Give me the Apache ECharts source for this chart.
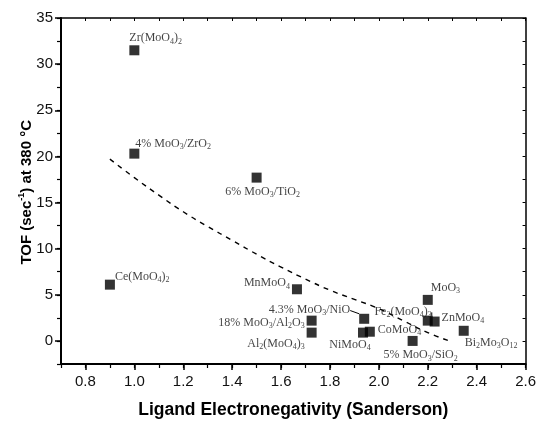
<!DOCTYPE html>
<html>
<head>
<meta charset="utf-8">
<script src="https://cdn.jsdelivr.net/npm/echarts@6/dist/echarts.min.js"></script>
<style>html,body{margin:0;padding:0;background:#fff;}#c{width:539px;height:424px;}</style>
</head>
<body>
<div id="c"></div>
<script>
// ---- data ----
const names = ['Zr(MoO4)2','4% MoO3/ZrO2','6% MoO3/TiO2','Ce(MoO4)2','MnMoO4','4.3% MoO3/NiO',
  '18% MoO3/Al2O3','Al2(MoO4)3','NiMoO4','CoMoO4','5% MoO3/SiO2','MoO3','Fe2(MoO4)3','ZnMoO4','Bi2Mo3O12'];
const electroneg = [1.00, 1.00, 1.50, 0.90, 1.665, 1.94, 1.725, 1.725, 1.935, 1.963, 2.138, 2.20, 2.20, 2.228, 2.347];
const tof =        [31.5, 20.3, 17.7, 6.1, 5.6, 2.4, 2.2, 0.9, 0.9, 1.0, 0.0, 4.45, 2.2, 2.1, 1.1];
const fitX = [0.9, 1.0, 1.1, 1.2, 1.3, 1.4, 1.5, 1.6, 1.7, 1.8, 1.9, 2.0, 2.1, 2.2, 2.3];
const fitY = [19.7, 17.7, 15.8, 14.0, 12.4, 10.9, 9.4, 8.0, 6.7, 5.5, 4.5, 3.5, 2.2, 0.9, -0.1];
const xMajorTicks = [0.8, 1.0, 1.2, 1.4, 1.6, 1.8, 2.0, 2.2, 2.4, 2.6];
const yMajorTicks = [0, 5, 10, 15, 20, 25, 30, 35];
const leaderLabels = ['4.3% MoO3/NiO', 'Fe2(MoO4)3'];

// label placement (align, offset) per point
const labelLayout = {
  'Zr(MoO4)2': ['left', -5, -12],
  '4% MoO3/ZrO2': ['left', 1, -10],
  '6% MoO3/TiO2': ['center', 6, 14],
  'Ce(MoO4)2': ['left', 5, -8],
  'MnMoO4': ['right', -7, -6],
  '4.3% MoO3/NiO': ['right', -14, -9],
  '18% MoO3/Al2O3': ['right', -7, 2],
  'Al2(MoO4)3': ['right', -7, 11],
  'NiMoO4': ['center', -13, 12],
  'CoMoO4': ['left', 8, -2],
  '5% MoO3/SiO2': ['center', 8, 14],
  'MoO3': ['left', 3, -12],
  'Fe2(MoO4)3': ['right', 4, -9],
  'ZnMoO4': ['left', 7, -4],
  'Bi2Mo3O12': ['left', 1, 12]
};

// Convert chemical formula to rich text with subscript digits (digits following letter or ')')
function toRich(s) {
  let out = '';
  let i = 0;
  let buf = '';
  const flush = () => { if (buf) { out += '{n|' + buf + '}'; buf = ''; } };
  while (i < s.length) {
    const ch = s[i];
    const prev = i > 0 ? s[i-1] : '';
    if (/[0-9]/.test(ch) && /[A-Za-z)]/.test(prev)) {
      let d = '';
      while (i < s.length && /[0-9]/.test(s[i])) { d += s[i]; i++; }
      flush();
      out += '{s|' + d + '}';
      continue;
    }
    buf += ch; i++;
  }
  flush();
  return out;
}

const points = names.map((n, i) => {
  const lay = labelLayout[n];
  const item = {
    value: [electroneg[i], tof[i]],
    label: { show: true, position: 'inside', align: lay[0], verticalAlign: 'middle', offset: [lay[1], lay[2]],
             formatter: toRich(n) }
  };
  if (leaderLabels.includes(n)) {
    item.labelLine = { show: true, lineStyle: { color: '#000', width: 1 } };
  }
  return item;
});
const fitData = fitX.map((x, i) => [x, fitY[i]]);

const richStyles = {
  n: { fontFamily: 'Liberation Serif', fontSize: 12, color: '#111', lineHeight: 15, verticalAlign: 'middle' },
  s: { fontFamily: 'Liberation Serif', fontSize: 8, color: '#111', lineHeight: 15, verticalAlign: 'bottom' }
};

const axisLbl = { fontFamily: 'Liberation Sans', fontSize: 15, color: '#111' };
const chart = echarts.init(document.getElementById('c'), null, { renderer: 'canvas' });
chart.setOption({
  animation: false,
  backgroundColor: '#fff',
  grid: { left: 61, right: 13, top: 18, bottom: 52, containLabel: false },
  xAxis: [
    { type: 'value', min: 0.7, max: 2.6, interval: 0.1, position: 'bottom',
      axisLine: { show: true, onZero: false, lineStyle: { color: '#000', width: 2 } },
      axisTick: { show: true, customValues: xMajorTicks, length: 6, lineStyle: { color: '#000', width: 1.5 } },
      axisLabel: { customValues: xMajorTicks, margin: 10, ...axisLbl, formatter: v => v.toFixed(1) },
      splitLine: { show: false },
      name: 'Ligand Electronegativity (Sanderson)', nameLocation: 'middle', nameGap: 37,
      nameTextStyle: { fontFamily: 'Liberation Sans', fontWeight: 'bold', fontSize: 17.5, color: '#000' } },
    { type: 'value', min: 0.7, max: 2.6, interval: 0.1, position: 'bottom',
      axisLine: { show: false, onZero: false },
      axisTick: { show: true, length: 4, lineStyle: { color: '#000', width: 1.2 } },
      axisLabel: { show: false }, splitLine: { show: false } },
    { type: 'value', min: 0.7, max: 2.6, interval: 0.1, position: 'top',
      axisLine: { show: true, onZero: false, lineStyle: { color: '#000', width: 1.5 } },
      axisTick: { show: true, inside: true, length: 3, lineStyle: { color: '#000', width: 1 } },
      axisLabel: { show: false }, splitLine: { show: false } }
  ],
  yAxis: [
    { type: 'value', min: -2.5, max: 35, interval: 2.5, position: 'left',
      axisLine: { show: true, onZero: false, lineStyle: { color: '#000', width: 2 } },
      axisTick: { show: true, customValues: yMajorTicks, length: 6, lineStyle: { color: '#000', width: 1.5 } },
      axisLabel: { customValues: yMajorTicks, margin: 8, ...axisLbl },
      splitLine: { show: false } },
    { type: 'value', min: -2.5, max: 35, interval: 2.5, position: 'left',
      axisLine: { show: false, onZero: false },
      axisTick: { show: true, length: 4, lineStyle: { color: '#000', width: 1.2 } },
      axisLabel: { show: false }, splitLine: { show: false } },
    { type: 'value', min: -2.5, max: 35, interval: 2.5, position: 'right',
      axisLine: { show: true, onZero: false, lineStyle: { color: '#000', width: 1.5 } },
      axisTick: { show: true, inside: true, length: 3, lineStyle: { color: '#000', width: 1 } },
      axisLabel: { show: false }, splitLine: { show: false } }
  ],
  graphic: [
    { type: 'text', left: 17, top: 120, rotation: Math.PI / 2, origin: [0, 0],
      style: { text: '{b|TOF (sec}{sup|-1}{b|) at 380 °C}',
        rich: {
          b: { fontFamily: 'Liberation Sans', fontWeight: 'bold', fontSize: 15, fill: '#000', lineHeight: 17, verticalAlign: 'bottom' },
          sup: { fontFamily: 'Liberation Sans', fontWeight: 'bold', fontSize: 9, fill: '#000', lineHeight: 17, verticalAlign: 'top' }
        } } }
  ],
  series: [
    { type: 'line', xAxisIndex: 0, yAxisIndex: 0, data: fitData, smooth: true, symbol: 'none',
      lineStyle: { color: '#000', width: 1.4, type: [5, 5] }, z: 1, silent: true },
    { type: 'scatter', xAxisIndex: 0, yAxisIndex: 0, data: points, symbol: 'rect', symbolSize: 10,
      itemStyle: { color: '#000' }, z: 3,
      label: { rich: richStyles } }
  ]
});
</script>
</body>
</html>
